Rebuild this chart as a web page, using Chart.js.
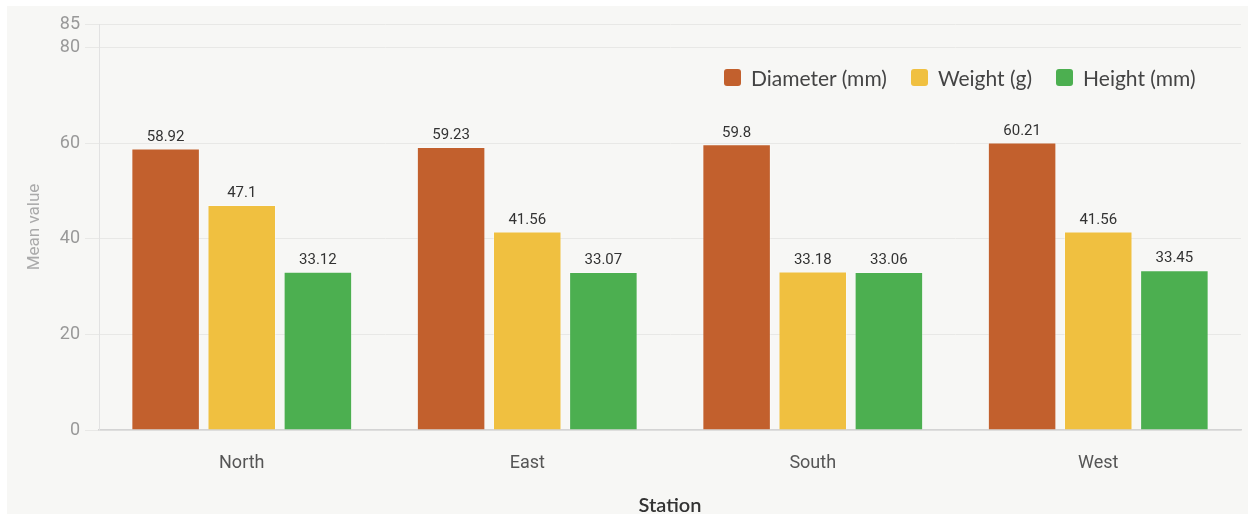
<!DOCTYPE html>
<html>
<head>
<meta charset="utf-8">
<script src="https://cdn.jsdelivr.net/npm/chart.js@4"></script>
<style>
  html, body { margin: 0; padding: 0; background: #ffffff; }
  #card {
    position: absolute; left: 7px; top: 6px; width: 1241px; height: 508px;
    background: #f7f7f5;
  }
  #legend {
    position: absolute; top: 59px; left: 717px;
    display: flex; align-items: center;
    font-family: Lato, "Noto Sans", sans-serif; font-size: 21px; color: #444;
  }
  #legend .item { display: flex; align-items: center; margin-right: 24px; }
  #legend .box { width: 17px; height: 17px; border-radius: 3px; margin-right: 10px; }
</style>
</head>
<body>
<div id="card">
  <canvas id="meansChart" width="1241" height="508"></canvas>
  <div id="legend"></div>
</div>
<script>
// Datos
const stations = ['North', 'East', 'South', 'West'];
const diameterMm = [58.92, 59.23, 59.8, 60.21];
const weightG = [47.1, 41.56, 33.18, 41.56];
const heightMm = [33.12, 33.07, 33.06, 33.45];
const yTickValues = [0, 20, 40, 60, 80, 85];

const seriesColors = ['#c2602d', '#f0c040', '#4caf50'];
const seriesLabels = ['Diameter (mm)', 'Weight (g)', 'Height (mm)'];

// Plugin simple para las etiquetas de valor sobre cada barra
const barValueLabels = {
    id: 'barValueLabels',
    afterDatasetsDraw(chart) {
        const ctx = chart.ctx;
        ctx.save();
        ctx.font = '15px Roboto, "Liberation Sans", sans-serif';
        ctx.fillStyle = '#333';
        ctx.textAlign = 'center';
        ctx.textBaseline = 'bottom';
        chart.data.datasets.forEach((ds, i) => {
            chart.getDatasetMeta(i).data.forEach((bar, j) => {
                ctx.fillText(String(ds.data[j]), bar.x, bar.y - 4);
            });
        });
        ctx.restore();
    }
};

const datasets = [diameterMm, weightG, heightMm].map((values, i) => ({
    label: seriesLabels[i],
    data: values,
    backgroundColor: seriesColors[i],
    borderColor: 'rgba(255,255,255,0.3)',
    borderWidth: 1
}));

// Leyenda en HTML, dentro del área de la gráfica
const legendEl = document.getElementById('legend');
seriesLabels.forEach((label, i) => {
    const item = document.createElement('div');
    item.className = 'item';
    item.innerHTML = '<span class="box" style="background:' + seriesColors[i] + '"></span>' + label;
    legendEl.appendChild(item);
});

new Chart(document.getElementById('meansChart'), {
    type: 'bar',
    data: { labels: stations, datasets: datasets },
    options: {
        responsive: false,
        animation: false,
        layout: { padding: { top: 18, right: 7, bottom: 0, left: 0 } },
        plugins: {
            legend: { display: false },
            tooltip: { enabled: false }
        },
        scales: {
            x: {
                grid: { display: false },
                border: { color: '#d4d4d4', width: 1.5 },
                ticks: {
                    color: '#555',
                    padding: 15,
                    font: { family: 'Roboto, "Liberation Sans", sans-serif', size: 18 }
                },
                title: {
                    display: true,
                    text: 'Station',
                    color: '#333',
                    padding: { top: 26, bottom: -4 },
                    font: { family: 'Lato, "Noto Sans", sans-serif', size: 20, weight: '600' }
                },
                afterFit(scale) { scale.height = 84; }
            },
            y: {
                min: 0,
                max: 85,
                afterBuildTicks(scale) {
                    scale.ticks = yTickValues.map(v => ({ value: v }));
                },
                grid: { color: '#e8e8e6', tickLength: 14 },
                border: { color: '#e2e2e2' },
                ticks: {
                    color: '#999',
                    padding: 5,
                    font: { family: 'Roboto, "Liberation Sans", sans-serif', size: 18 }
                },
                title: {
                    display: true,
                    text: 'Mean value',
                    color: '#aaa',
                    padding: { top: 18, bottom: 0 },
                    font: { family: 'Roboto, "Liberation Sans", sans-serif', size: 17 }
                },
                afterFit(scale) { scale.width = 92; }
            }
        }
    },
    plugins: [barValueLabels]
});
</script>
</body>
</html>
